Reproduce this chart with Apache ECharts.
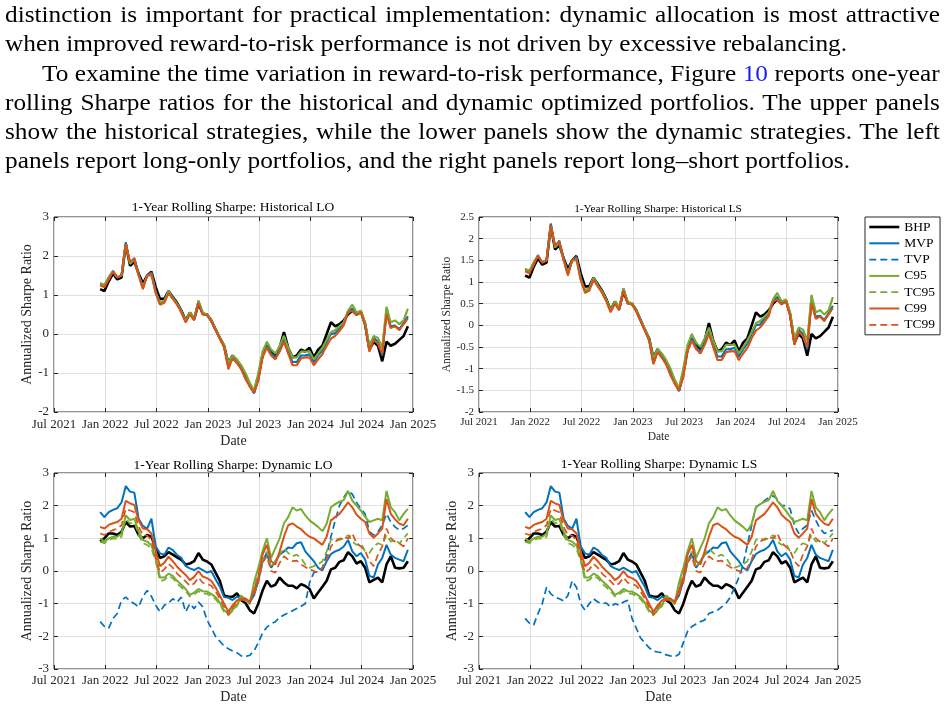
<!DOCTYPE html>
<html>
<head>
<meta charset="utf-8">
<script src="https://cdn.jsdelivr.net/npm/echarts@6/dist/echarts.min.js"></script>
<style>
  html, body { margin: 0; padding: 0; background: #fff; }
  #page { position: relative; width: 947px; height: 708px; overflow: hidden; }
  #chart { position: absolute; left: 0; top: 0; width: 947px; height: 708px; }
  .ln { position: absolute; left: 5px; font-family: "Liberation Serif", serif;
        font-size: 22.5px; line-height: 29px; color: #000; white-space: nowrap;
        transform: scaleX(1.125); transform-origin: 0 0; }
  .just { width: 831px; text-align: justify; text-align-last: justify; white-space: normal; }
  .ref { color: #1c1cff; }
</style>
</head>
<body>
<div id="page">
  <div id="chart"></div>
  <div class="ln just" style="top:0px">distinction is important for practical implementation: dynamic allocation is most attractive</div>
  <div class="ln" style="top:29px">when improved reward-to-risk performance is not driven by excessive rebalancing.</div>
  <div class="ln just" style="top:59px; left:42px; width:798px">To examine the time variation in reward-to-risk performance, Figure <span class="ref">10</span> reports one-year</div>
  <div class="ln just" style="top:88px">rolling Sharpe ratios for the historical and dynamic optimized portfolios. The upper panels</div>
  <div class="ln just" style="top:117px">show the historical strategies, while the lower panels show the dynamic strategies. The left</div>
  <div class="ln" style="top:146px">panels report long-only portfolios, and the right panels report long&ndash;short portfolios.</div>
</div>
<script>
// sampled every half month starting mid-Dec 2021 (decimal years)
const t0 = 2021.95;
const step = 1 / 24;
const xTickLabels = ["Jul 2021", "Jan 2022", "Jul 2022", "Jan 2023", "Jul 2023", "Jan 2024", "Jul 2024", "Jan 2025"];
const seriesNames = ["BHP", "MVP", "TVP", "C95", "TC95", "C99", "TC99"];

// historical panels (LO and LS look the same)
const histBHP = [1.15, 1.1, 1.35, 1.55, 1.4, 1.45, 2.3, 1.75, 1.85, 1.55, 1.3, 1.5,
  1.6, 1.2, 0.9, 0.9, 1.1, 0.95, 0.8, 0.6, 0.35, 0.55, 0.38, 0.78,
  0.52, 0.5, 0.35, 0.12, -0.1, -0.3, -0.75, -0.55, -0.7, -0.85, -1.1, -1.3,
  -1.5, -1.1, -0.55, -0.3, -0.45, -0.55, -0.35, 0.05, -0.35, -0.6, -0.55, -0.4,
  -0.45, -0.35, -0.6, -0.4, -0.3, 0.0, 0.3, 0.2, 0.25, 0.35, 0.5, 0.6,
  0.5, 0.58, 0.25, -0.4, -0.2, -0.3, -0.7, -0.2, -0.3, -0.25, -0.15, -0.05, 0.2];
const histMVP = [1.3, 1.25, 1.45, 1.62, 1.45, 1.5, 2.35, 1.8, 1.95, 1.55, 1.2, 1.5,
  1.58, 1.1, 0.8, 0.85, 1.1, 0.93, 0.78, 0.58, 0.33, 0.53, 0.38, 0.85,
  0.52, 0.5, 0.34, 0.12, -0.1, -0.32, -0.85, -0.58, -0.72, -0.88, -1.12, -1.32,
  -1.52, -1.15, -0.55, -0.3, -0.5, -0.6, -0.4, -0.12, -0.45, -0.72, -0.72, -0.55,
  -0.55, -0.52, -0.72, -0.55, -0.42, -0.2, 0.0, 0.02, 0.15, 0.28, 0.58, 0.65,
  0.5, 0.58, 0.25, -0.4, -0.1, -0.2, -0.55, 0.55, 0.2, 0.22, 0.12, 0.28, 0.45];
const histC95 = [1.3, 1.25, 1.45, 1.6, 1.45, 1.5, 2.3, 1.8, 1.9, 1.5, 1.2, 1.5,
  1.5, 1.05, 0.8, 0.85, 1.1, 0.92, 0.78, 0.58, 0.35, 0.55, 0.4, 0.85,
  0.55, 0.5, 0.35, 0.12, -0.08, -0.3, -0.75, -0.55, -0.65, -0.8, -1.0, -1.25,
  -1.45, -1.0, -0.45, -0.2, -0.4, -0.5, -0.3, -0.05, -0.35, -0.6, -0.6, -0.45,
  -0.45, -0.45, -0.65, -0.5, -0.35, -0.15, 0.05, 0.1, 0.2, 0.3, 0.6, 0.75,
  0.55, 0.6, 0.3, -0.3, -0.05, -0.1, -0.35, 0.7, 0.3, 0.35, 0.25, 0.35, 0.65];
const histC99 = [1.25, 1.2, 1.4, 1.6, 1.45, 1.5, 2.3, 1.85, 1.93, 1.5, 1.15, 1.5,
  1.55, 1.05, 0.75, 0.8, 1.05, 0.9, 0.75, 0.55, 0.3, 0.5, 0.35, 0.8,
  0.5, 0.48, 0.32, 0.1, -0.12, -0.35, -0.9, -0.62, -0.75, -0.9, -1.15, -1.35,
  -1.5, -1.2, -0.6, -0.35, -0.55, -0.65, -0.45, -0.2, -0.5, -0.8, -0.8, -0.62,
  -0.6, -0.6, -0.8, -0.65, -0.52, -0.3, -0.12, -0.05, 0.08, 0.22, 0.55, 0.6,
  0.48, 0.55, 0.22, -0.45, -0.15, -0.25, -0.5, 0.5, 0.15, 0.2, 0.1, 0.25, 0.4];

// dynamic panels
const dynBHP = [0.9, 1.0, 1.15, 1.15, 1.1, 1.2, 1.5, 1.36, 1.38, 1.1, 1.0, 1.1,
  1.05, 0.7, 0.4, 0.45, 0.58, 0.5, 0.42, 0.34, 0.2, 0.23, 0.3, 0.55,
  0.35, 0.29, 0.2, -0.05, -0.3, -0.75, -0.78, -0.79, -0.68, -0.89, -0.98, -1.2,
  -1.3, -1.0, -0.6, -0.3, -0.48, -0.42, -0.2, -0.35, -0.45, -0.45, -0.53, -0.4,
  -0.46, -0.55, -0.84, -0.66, -0.48, -0.3, 0.05, 0.1, 0.28, 0.33, 0.58, 0.45,
  0.23, 0.3, 0.1, -0.35, -0.27, -0.2, -0.35, 0.2, 0.45, 0.1, 0.08, 0.1, 0.3];
const dynMVP = [1.8, 1.65, 1.8, 1.87, 1.92, 2.1, 2.6, 2.43, 2.4, 1.6, 1.38, 1.3,
  1.6, 0.75, 0.54, 0.5, 0.72, 0.64, 0.49, 0.4, 0.15, 0.08, 0.03, 0.1,
  0.03, -0.05, 0.0, -0.25, -0.48, -0.8, -0.82, -0.89, -0.79, -0.8, -0.85, -0.95,
  -0.75, -0.3, 0.3, 0.55, 0.1, 0.3, 0.5, 0.6, 0.72, 0.7, 0.85, 0.88,
  0.6, 0.45, 0.3, 0.1, 0.02, 0.3, 0.52, 0.6, 0.65, 0.75, 0.95, 0.6,
  0.45, 0.55, 0.35, -0.15, -0.2, 0.2, 0.4, 0.8, 0.5, 0.4, 0.35, 0.3, 0.65];
const dynTVPlo = [-1.55, -1.7, -1.75, -1.45, -1.3, -0.9, -0.8, -0.92, -1.0, -1.1, -0.78, -0.6,
  -0.78, -1.05, -1.25, -1.05, -0.98, -0.85, -0.95, -0.8, -1.25, -1.0, -1.15, -0.95,
  -1.1, -1.5, -1.75, -2.0, -2.15, -2.3, -2.38, -2.45, -2.5, -2.6, -2.62, -2.58,
  -2.45, -2.2, -1.9, -1.72, -1.62, -1.55, -1.42, -1.35, -1.28, -1.22, -1.15, -1.08,
  -1.0, -0.35, -0.05, 0.0, 0.1, 0.5, 1.05, 1.55, 2.0, 2.25, 2.45, 2.35,
  2.1, 1.9, 1.75, 1.2, 1.1, 1.2, 1.4, 1.75, 1.5, 1.35, 1.25, 1.3, 1.4];
const dynTVPls = [-1.45, -1.6, -1.65, -1.3, -1.0, -0.5, -0.7, -0.8, -0.85, -0.92, -0.75, -0.3,
  -0.5, -1.0, -1.2, -1.0, -0.85, -0.95, -1.0, -0.98, -1.1, -1.0, -1.05, -0.95,
  -0.9, -1.45, -1.75, -2.05, -2.2, -2.35, -2.45, -2.48, -2.5, -2.57, -2.6, -2.62,
  -2.55, -2.2, -1.85, -1.7, -1.62, -1.55, -1.5, -1.3, -1.25, -1.2, -1.1, -0.99,
  -0.8, -0.5, -0.2, 0.2, 0.8, 1.4, 1.95, 2.05, 2.15, 2.25, 2.3, 2.2,
  2.0, 2.0, 1.9, 1.4, 1.15, 1.3, 1.4, 1.85, 1.55, 1.3, 1.15, 1.2, 1.25];
const dynC95 = [1.0, 0.9, 1.0, 1.05, 1.05, 1.15, 1.7, 1.56, 1.6, 1.2, 0.95, 0.9,
  0.78, 0.4, -0.2, -0.2, -0.08, -0.15, -0.3, -0.42, -0.55, -0.73, -0.66, -0.55,
  -0.62, -0.63, -0.7, -0.8, -0.97, -1.2, -1.3, -1.19, -1.04, -0.75, -0.89, -0.99,
  -0.35, 0.1, 0.6, 1.0, 0.4, 0.7, 1.0, 1.46, 1.65, 1.95, 1.85, 1.9,
  1.7, 1.55, 1.45, 1.35, 1.22, 1.45, 1.95, 2.05, 2.12, 2.17, 2.45, 2.15,
  2.0, 1.85, 1.66, 1.5, 1.55, 1.6, 1.55, 2.45, 1.95, 1.8, 1.55, 1.75, 1.9];
const dynTC95 = [0.9, 0.85, 0.95, 1.0, 0.98, 1.05, 1.6, 1.45, 1.5, 1.1, 0.85, 0.8,
  0.68, 0.3, -0.3, -0.28, -0.15, -0.22, -0.38, -0.5, -0.62, -0.78, -0.72, -0.62,
  -0.68, -0.7, -0.76, -0.86, -1.02, -1.25, -1.35, -1.22, -1.08, -0.8, -0.92, -1.02,
  -0.45, -0.05, 0.3, 0.6, 0.1, 0.3, 0.5, 0.7, 0.55, 0.45, 0.5, 0.4,
  0.2, 0.1, 0.15, 0.2, 0.3, 0.6, 0.95, 1.0, 0.95, 1.0, 1.1, 0.9,
  0.8, 0.85, 0.6, 0.55, 0.75, 0.85, 0.8, 1.1, 0.9, 0.95, 0.85, 1.0, 1.15];
const dynC99 = [1.35, 1.3, 1.41, 1.46, 1.5, 1.6, 2.15, 2.07, 2.02, 1.55, 1.3, 1.28,
  1.15, 0.6, 0.15, 0.25, 0.44, 0.3, 0.13, 0.0, -0.12, -0.28, -0.18, 0.0,
  -0.17, -0.22, -0.3, -0.5, -0.75, -1.0, -1.25, -1.05, -0.9, -0.85, -0.85, -0.94,
  -0.6, -0.2, 0.5, 0.8, 0.3, 0.2, 0.6, 1.05, 1.4, 1.46, 1.36, 1.28,
  1.15, 1.05, 1.0, 0.9, 0.8, 1.05, 1.55, 1.65, 1.75, 1.92, 2.1, 1.95,
  1.72, 1.6, 1.5, 1.15, 1.02, 1.15, 1.3, 2.2, 1.75, 1.58, 1.45, 1.4, 1.6];
const dynTC99 = [1.15, 1.1, 1.2, 1.25, 1.3, 1.4, 1.9, 1.85, 1.8, 1.35, 1.1, 1.08,
  0.95, 0.4, -0.05, 0.05, 0.22, 0.1, -0.08, -0.2, -0.32, -0.45, -0.38, -0.2,
  -0.36, -0.4, -0.45, -0.62, -0.85, -1.1, -1.35, -1.12, -0.95, -0.88, -0.9, -0.98,
  -0.7, -0.35, 0.25, 0.45, 0.0, -0.05, 0.25, 0.45, 0.35, 0.3, 0.32, 0.2,
  0.12, 0.05, 0.0, -0.05, 0.1, 0.35, 0.75, 0.9, 0.98, 1.05, 1.0, 1.15,
  0.85, 0.75, 0.62, 0.3, 0.15, 0.5, 0.75, 1.3, 1.0, 0.9, 0.85, 0.75, 1.0];

const colors = { BHP: "#000000", MVP: "#0072BD", TVP: "#0072BD", C95: "#77AC30", TC95: "#77AC30", C99: "#D95319", TC99: "#D95319" };
const dashed = { TVP: true, TC95: true, TC99: true };

const panels = [
  { title: "1-Year Rolling Sharpe: Historical LO", tx: 233, ty: 207, left: 54, top: 217, height: 195,
    ymin: -2, ymax: 3, yint: 1, fs: 13, nfs: 14, yGap: 20, xGap: 22, lblMargin: 6,
    data: { BHP: histBHP, MVP: histMVP, TVP: histMVP, C95: histC95, TC95: histC95, C99: histC99, TC99: histC99 } },
  { title: "1-Year Rolling Sharpe: Historical LS", tx: 658, ty: 209, left: 479, top: 217, height: 195,
    ymin: -2, ymax: 2.5, yint: 0.5, fs: 11, nfs: 11.5, yGap: 25, xGap: 19, lblMargin: 5,
    data: { BHP: histBHP, MVP: histMVP, TVP: histMVP, C95: histC95, TC95: histC95, C99: histC99, TC99: histC99 } },
  { title: "1-Year Rolling Sharpe: Dynamic LO", tx: 233, ty: 465, left: 54, top: 473, height: 196,
    ymin: -3, ymax: 3, yint: 1, fs: 13, nfs: 14, yGap: 20, xGap: 21, lblMargin: 5,
    data: { BHP: dynBHP, MVP: dynMVP, TVP: dynTVPlo, C95: dynC95, TC95: dynTC95, C99: dynC99, TC99: dynTC99 } },
  { title: "1-Year Rolling Sharpe: Dynamic LS", tx: 659, ty: 464, left: 479, top: 473, height: 196,
    ymin: -3, ymax: 3, yint: 1, fs: 13, nfs: 14, yGap: 20, xGap: 21, lblMargin: 5,
    data: { BHP: dynBHP, MVP: dynMVP, TVP: dynTVPls, C95: dynC95, TC95: dynTC95, C99: dynC99, TC99: dynTC99 } }
];

const font = "Liberation Serif";
const axisColor = "#262626";
const tick = { show: true, inside: true, length: 4, lineStyle: { color: axisColor } };

function toPairs(arr) {
  return arr.map((v, i) => [t0 + i * step, v]);
}

const grids = [], xAxes = [], yAxes = [], series = [], graphics = [];
panels.forEach((p, k) => {
  grids.push({ left: p.left, top: p.top, width: 359, height: p.height, show: true,
    borderColor: axisColor, borderWidth: 1, backgroundColor: "#fff" });
  xAxes.push({
    type: "value", gridIndex: k, min: 2021.5, max: 2025, interval: 0.5,
    name: "Date", nameLocation: "middle", nameGap: p.xGap,
    nameTextStyle: { fontFamily: font, fontSize: p.nfs, color: axisColor },
    axisLine: { show: false, onZero: false },
    axisTick: tick,
    axisLabel: { fontFamily: font, fontSize: p.fs, color: axisColor, margin: p.lblMargin,
      formatter: (v) => xTickLabels[Math.round((v - 2021.5) / 0.5)] },
    splitLine: { show: true, lineStyle: { color: "#dfdfdf", width: 1 } }
  });
  yAxes.push({
    type: "value", gridIndex: k, min: p.ymin, max: p.ymax, interval: p.yint,
    name: "Annualized Sharpe Ratio", nameLocation: "middle", nameGap: p.yGap,
    nameTextStyle: { fontFamily: font, fontSize: p.nfs, color: axisColor },
    axisLine: { show: false, onZero: false },
    axisTick: tick,
    axisLabel: { fontFamily: font, fontSize: p.fs, color: axisColor, margin: 5 },
    splitLine: { show: true, lineStyle: { color: "#dfdfdf", width: 1 } }
  });
  seriesNames.forEach((name) => {
    series.push({
      name: name, type: "line", xAxisIndex: k, yAxisIndex: k,
      data: toPairs(p.data[name]),
      showSymbol: false, symbol: "none", animation: false,
      itemStyle: { color: colors[name] },
      lineStyle: { color: colors[name], width: name === "BHP" ? 2.6 : (dashed[name] ? 1.7 : 2),
        type: dashed[name] ? [7, 4] : "solid" }
    });
  });
  graphics.push({
    type: "text", x: p.tx, y: p.ty,
    style: { text: p.title, fill: "#000", fontFamily: font, fontSize: k === 1 ? 11.3 : 13.5,
      align: "center", verticalAlign: "middle", textAlign: "center", textVerticalAlign: "middle" }
  });
});

// mirror ticks on the top and right edges of each box
panels.forEach((p, k) => {
  xAxes.push({ type: "value", gridIndex: k, position: "top", min: 2021.5, max: 2025, interval: 0.5,
    axisLine: { show: false, onZero: false }, axisTick: tick, axisLabel: { show: false }, splitLine: { show: false } });
  yAxes.push({ type: "value", gridIndex: k, position: "right", min: p.ymin, max: p.ymax, interval: p.yint,
    axisLine: { show: false, onZero: false }, axisTick: tick, axisLabel: { show: false }, splitLine: { show: false } });
});

const chart = echarts.init(document.getElementById("chart"), null, { renderer: "canvas" });
chart.setOption({
  animation: false,
  grid: grids,
  xAxis: xAxes,
  yAxis: yAxes,
  series: series,
  graphic: graphics,
  legend: {
    data: seriesNames, orient: "vertical", left: 865, top: 217,
    itemWidth: 30, itemHeight: 14, itemGap: 2.3, padding: [3, 5, 3, 3],
    borderColor: axisColor, borderWidth: 1, backgroundColor: "#fff",
    itemStyle: { opacity: 0 },
    lineStyle: { width: "inherit" },
    textStyle: { fontFamily: font, fontSize: 13.5, color: "#000", lineHeight: 14 },
    selectedMode: false
  }
});
</script>
</body>
</html>
